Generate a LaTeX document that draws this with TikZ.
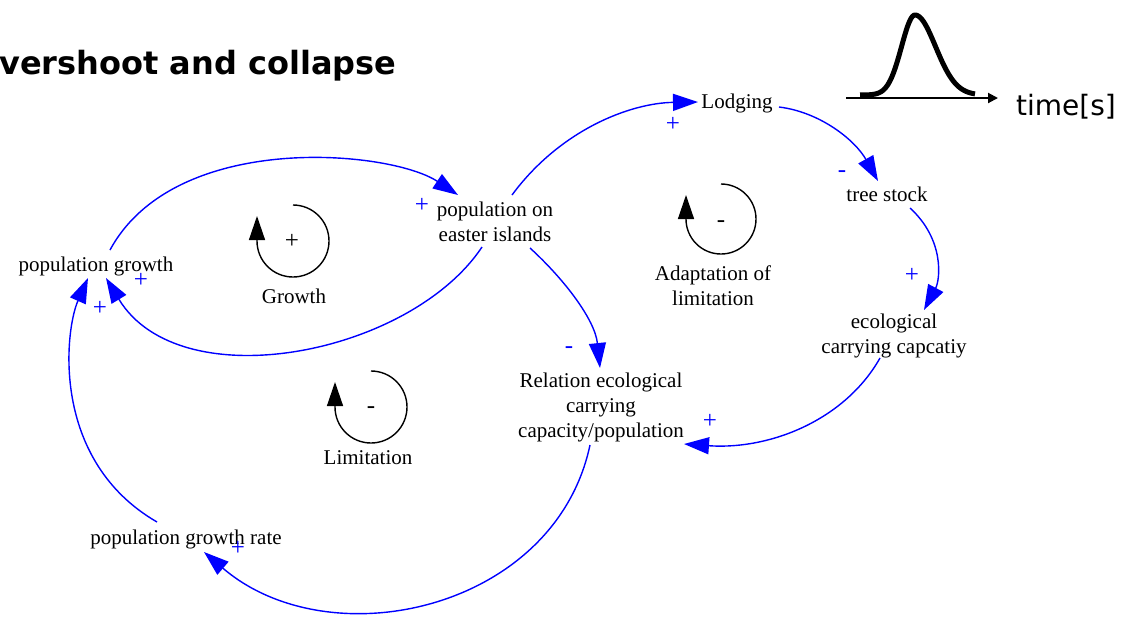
\documentclass[tikz,border=0pt]{standalone}
\usepackage{fontspec}
\setmainfont{Liberation Serif}
\newfontfamily\djsans{DejaVu Sans}
\usetikzlibrary{arrows.meta}
\begin{document}
\begin{tikzpicture}[x=1pt,y=-1pt,
  lbl/.style={font=\fontsize{21}{25}\selectfont, align=center, inner sep=1pt},
  sgn/.style={font=\fontsize{25}{28}\selectfont, inner sep=0pt},
  bsgn/.style={sgn, text=blue},
  link/.style={draw=blue, line width=1.4pt, -{Triangle[length=25pt,width=17pt]}},
  loopc/.style={draw=black, line width=1.4pt, -{Triangle[length=24pt,width=16pt]}}]
\useasboundingbox (0,0) rectangle (1132,633);

% title and time sketch
\node[anchor=base west, inner sep=0pt, font=\djsans\bfseries\fontsize{32}{36}\selectfont] (title) at (-1,74) {vershoot and collapse};
\node[anchor=base west, inner sep=0pt, font=\djsans\fontsize{28}{32}\selectfont] (time) at (1016,115) {time[s]};
\draw[line width=2pt, -{Triangle[length=10pt,width=10pt]}] (846,98) -- (998,98);
\draw[line width=5pt] plot[domain=860:915, samples=50] (\x,{95-80/exp(((\x-915)/19)*((\x-915)/19))})
  -- plot[domain=915:975, samples=60] (\x,{95-80/exp(((\x-915)/29)*((\x-915)/29))});

% variables
\node[lbl] (lod) at (737,103) {Lodging};
\node[lbl] (tree) at (887,194) {tree stock};
\node[lbl] (pop) at (495,222) {population on\\easter islands};
\node[lbl] (pg) at (96,266) {population growth};
\node[lbl] (eco) at (894,336) {ecological\\carrying capcatiy};
\node[lbl] (rel) at (601,407.5) {Relation ecological\\carrying\\capacity/population};
\node[lbl] (pgr) at (186,539) {population growth rate};
\node[lbl] (grow) at (294,296) {Growth};
\node[lbl] (adapt) at (713,286) {Adaptation of\\limitation};
\node[lbl] (lim) at (368,458) {Limitation};

% links
\draw[link] ([shift={(14,-16)}]pg.center) .. controls (175,130) and (390,150) .. ([shift={(-37,-27)}]pop.center);
\draw[link] ([shift={(-13,25)}]pop.center) .. controls (410,355) and (180,400) .. ([shift={(10,12)}]pg.center);
\draw[link] ([shift={(-29,-17)}]pgr.center) .. controls (50,460) and (65,330) .. ([shift={(-8,12)}]pg.center);
\draw[link] ([shift={(35,26)}]pop.center) .. controls (565,280) and (595,320) .. ([shift={(-1,-39.5)}]rel.center);
\draw[link] ([shift={(-11,37.5)}]rel.center) .. controls (555,610) and (330,660) .. ([shift={(18,13)}]pgr.center);
\draw[link] ([shift={(-14,22)}]eco.center) .. controls (845,420) and (770,450) .. ([shift={(83,36.5)}]rel.center);
\draw[link] ([shift={(23,14)}]tree.center) .. controls (945,240) and (940,280) .. ([shift={(30,-26)}]eco.center);
\draw[link] ([shift={(42,4)}]lod.center) .. controls (820,112) and (855,140) .. ([shift={(-9,-13)}]tree.center);
\draw[link] ([shift={(17,-27)}]pop.center) .. controls (560,130) and (630,103) .. ([shift={(-39,-1)}]lod.center);

% polarity signs
\node[bsgn] (s1) at (422,205) {+};
\node[bsgn] (s2) at (141,280) {+};
\node[bsgn] (s3) at (100,308) {+};
\node[bsgn] (s4) at (569,350) {-};
\node[bsgn] (s5) at (238,548) {+};
\node[bsgn] (s6) at (710,421) {+};
\node[bsgn] (s7) at (912,275) {+};
\node[bsgn] (s8) at (842,174) {-};
\node[bsgn] (s9) at (673,124) {+};

% loop symbols
\draw[loopc] (293,205) arc[start angle=270, end angle=540, radius=36] -- ++(0,-25);
\node[sgn] (gs) at (292,241) {+};
\draw[loopc] (721,184) arc[start angle=270, end angle=540, radius=35] -- ++(0,-24);
\node[sgn] (as) at (721,224) {-};
\draw[loopc] (371,371) arc[start angle=270, end angle=540, radius=36] -- ++(0,-25);
\node[sgn] (ls) at (371,410) {-};
\end{tikzpicture}
\end{document}
